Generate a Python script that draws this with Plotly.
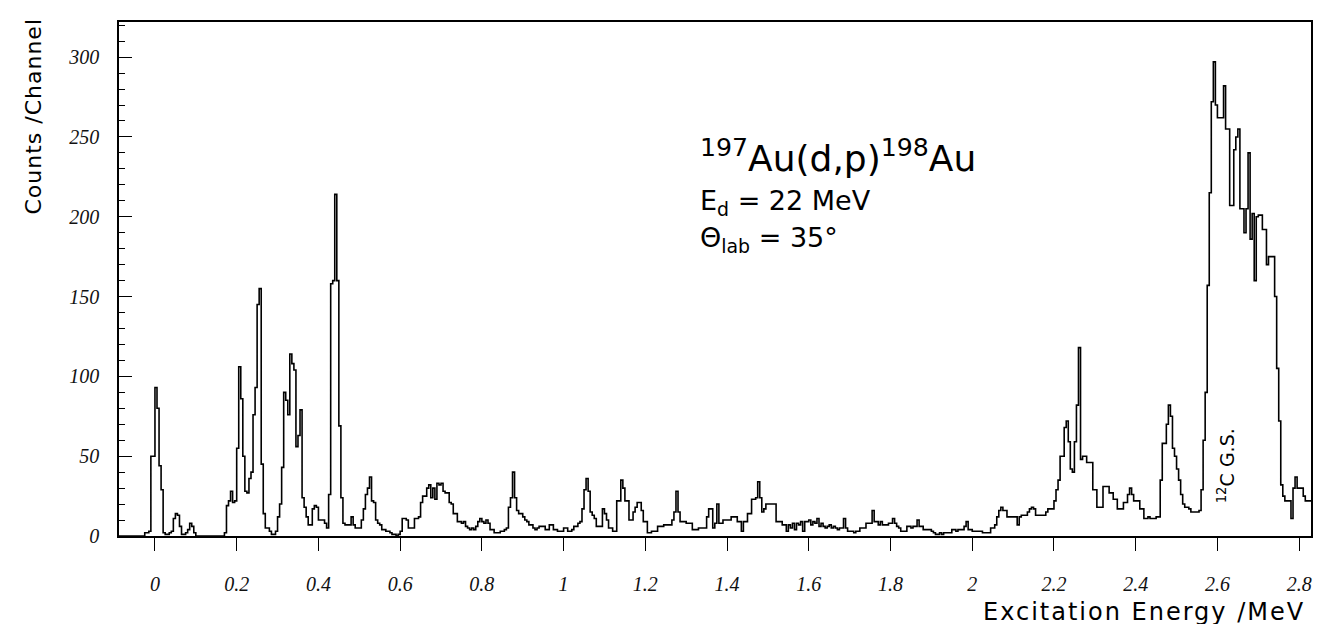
import numpy as np
import plotly.graph_objects as go

# ---- spectrum: counts per channel, channel width 0.005 MeV, first channel starts at -0.1 MeV
first_channel_energy = -0.1
channel_width = 0.005

row_m01 = [0, 0, 0, 0, 0, 0, 0, 0, 0, 0, 0, 0, 0, 0, 0, 2, 2, 3, 50, 50]
row_00 = [93, 80, 44, 29, 2, 1, 1, 2, 3, 11, 14, 13, 6, 1, 1, 2, 4, 8, 6, 2]
row_01 = [0, 0, 0, 0, 0, 0, 0, 0, 0, 0, 0, 0, 0, 0, 2, 19, 22, 28, 21, 22]
row_02 = [55, 106, 86, 50, 28, 27, 36, 40, 76, 93, 145, 155, 45, 14, 5, 5, 3, 1, 1, 3]
row_03 = [12, 20, 43, 90, 85, 76, 114, 108, 104, 56, 63, 79, 24, 18, 12, 7, 7, 17, 19, 18]
row_04 = [10, 10, 10, 8, 5, 26, 158, 160, 214, 160, 69, 24, 8, 7, 7, 7, 12, 7, 5, 5]
row_05 = [5, 10, 17, 26, 30, 37, 22, 21, 10, 8, 7, 4, 4, 3, 3, 2, 1, 1, 0, 1]
row_06 = [3, 11, 11, 10, 5, 5, 5, 11, 11, 12, 21, 25, 25, 30, 32, 24, 30, 23, 33, 32]
row_07 = [33, 28, 27, 27, 21, 20, 14, 14, 9, 9, 8, 9, 6, 5, 4, 5, 4, 6, 9, 11]
row_08 = [9, 8, 10, 8, 4, 4, 2, 2, 2, 3, 3, 4, 5, 18, 24, 40, 24, 16, 14, 14]
row_09 = [12, 10, 9, 7, 7, 5, 4, 5, 6, 6, 6, 4, 4, 7, 7, 4, 4, 3, 3, 3]
row_10 = [5, 5, 3, 3, 4, 6, 6, 8, 9, 17, 29, 36, 28, 15, 13, 11, 6, 6, 6, 17]
row_11 = [14, 10, 5, 5, 3, 3, 22, 22, 35, 30, 22, 22, 10, 10, 15, 18, 21, 21, 16, 9]
row_12 = [9, 2, 2, 3, 3, 3, 6, 6, 6, 7, 7, 7, 7, 10, 15, 28, 15, 9, 9, 9]
row_13 = [8, 8, 8, 4, 4, 4, 5, 5, 5, 5, 12, 17, 17, 5, 8, 20, 8, 8, 10, 10]
row_14 = [10, 10, 12, 12, 12, 9, 9, 3, 9, 9, 14, 14, 23, 23, 24, 34, 24, 15, 17, 20]
row_15 = [20, 20, 20, 20, 9, 9, 9, 7, 7, 3, 7, 5, 8, 4, 8, 7, 9, 3, 9, 9]
row_16 = [10, 7, 9, 8, 11, 6, 8, 6, 5, 6, 7, 5, 6, 5, 4, 5, 5, 11, 5, 3]
row_17 = [3, 3, 2, 3, 3, 5, 5, 5, 8, 8, 8, 16, 9, 9, 7, 9, 7, 7, 7, 8]
row_18 = [8, 11, 8, 6, 5, 3, 3, 3, 6, 6, 5, 6, 6, 10, 6, 6, 4, 4, 4, 4]
row_19 = [3, 2, 1, 1, 2, 1, 2, 2, 2, 2, 4, 4, 3, 4, 4, 4, 6, 9, 4, 4]
row_20 = [3, 3, 3, 3, 3, 2, 2, 2, 2, 5, 5, 7, 12, 16, 18, 16, 16, 12, 12, 12]
row_21 = [12, 12, 7, 12, 13, 13, 13, 15, 17, 18, 17, 13, 13, 13, 13, 13, 15, 17, 17, 17]
row_22 = [22, 29, 35, 50, 50, 68, 72, 59, 42, 40, 59, 82, 118, 48, 50, 50, 46, 46, 46, 29]
row_23 = [29, 18, 18, 18, 31, 31, 31, 27, 27, 23, 23, 17, 17, 17, 21, 21, 26, 30, 26, 22]
row_24 = [22, 22, 17, 17, 11, 11, 12, 11, 11, 11, 12, 12, 35, 58, 58, 70, 82, 75, 55, 50]
row_25 = [42, 35, 26, 20, 18, 18, 17, 15, 15, 15, 15, 16, 29, 60, 90, 157, 215, 272, 297, 270]
row_26 = [262, 262, 262, 282, 255, 255, 207, 207, 242, 250, 255, 205, 205, 190, 205, 240, 186, 202, 160, 200]
row_27 = [201, 201, 192, 192, 170, 175, 175, 175, 150, 105, 72, 32, 25, 22, 22, 22, 11, 30, 37, 30]
row_28 = [30, 30, 25, 22, 22, 22, 22, 22, 22, 22]

counts = (row_m01 + row_00 + row_01 + row_02 + row_03 + row_04 + row_05 + row_06
          + row_07 + row_08 + row_09 + row_10 + row_11 + row_12 + row_13 + row_14
          + row_15 + row_16 + row_17 + row_18 + row_19 + row_20 + row_21 + row_22
          + row_23 + row_24 + row_25 + row_26 + row_27 + row_28)

x_tick_values = [0, 0.2, 0.4, 0.6, 0.8, 1, 1.2, 1.4, 1.6, 1.8, 2, 2.2, 2.4, 2.6, 2.8]
x_tick_labels = ["0", "0.2", "0.4", "0.6", "0.8", "1", "1.2", "1.4", "1.6", "1.8",
                 "2", "2.2", "2.4", "2.6", "2.8"]
y_tick_values = [0, 50, 100, 150, 200, 250, 300]
y_tick_labels = ["0", "50", "100", "150", "200", "250", "300"]

edges = first_channel_energy + channel_width * np.arange(len(counts) + 1)
y_steps = counts + [counts[-1]]

fig = go.Figure()
fig.add_trace(go.Scatter(
    x=edges, y=y_steps, mode="lines", line_shape="hv",
    line=dict(color="black", width=1.6), hoverinfo="skip", showlegend=False,
))

tick_font = dict(family="Liberation Serif", size=20, color="#111", style="italic")

fig.update_xaxes(
    range=[-0.088, 2.829], showgrid=False, zeroline=False,
    showline=True, linecolor="black", linewidth=1.6, mirror=True,
    ticks="outside", ticklen=13, tickwidth=1.3, tickcolor="black",
    tickvals=x_tick_values, ticktext=x_tick_labels,
    tickfont=tick_font, ticklabelstandoff=16,
)
fig.update_yaxes(
    range=[0, 322], showgrid=False, zeroline=False,
    showline=True, linecolor="black", linewidth=1.6, mirror=True,
    ticks="inside", ticklen=13, tickwidth=1.3, tickcolor="black",
    tickvals=y_tick_values, ticktext=y_tick_labels,
    minor=dict(ticks="inside", ticklen=6, dtick=10, tickcolor="black", tickwidth=1),
    tickfont=tick_font, ticklabelstandoff=14,
)

annotations = [
    dict(text='<span style="letter-spacing:1px">Counts /Channel</span>',
         xref="paper", yref="paper", x=-0.072, y=1.012,
         xanchor="center", yanchor="top", textangle=-90, showarrow=False,
         font=dict(family="DejaVu Sans", size=22, color="black")),
    dict(text='<span style="letter-spacing:2px">Excitation Energy /MeV</span>',
         xref="paper", yref="paper", x=0.997, y=-0.148,
         xanchor="right", yanchor="middle", showarrow=False,
         font=dict(family="DejaVu Sans", size=24, color="black")),
    dict(text="<sup>197</sup>Au(d,p)<sup>198</sup>Au", xref="x", yref="y", x=1.33, y=238,
         xanchor="left", yanchor="middle", showarrow=False,
         font=dict(family="DejaVu Sans", size=36, color="black")),
    dict(text="E<sub>d</sub> = 22 MeV", xref="x", yref="y", x=1.33, y=209,
         xanchor="left", yanchor="middle", showarrow=False,
         font=dict(family="DejaVu Sans", size=27, color="black")),
    dict(text="\u0398<sub>lab</sub> = 35\u00b0", xref="x", yref="y", x=1.33, y=186,
         xanchor="left", yanchor="middle", showarrow=False,
         font=dict(family="DejaVu Sans", size=27, color="black")),
    dict(text="<sup>12</sup>C G.S.", xref="x", yref="y", x=2.62, y=44,
         xanchor="center", yanchor="middle", textangle=-90, showarrow=False,
         font=dict(family="DejaVu Sans", size=19, color="black")),
]

fig.update_layout(
    width=1325, height=624,
    margin=dict(l=111, r=22, t=12, b=96),
    paper_bgcolor="white", plot_bgcolor="white",
    annotations=annotations,
)

fig.write_html("out.html")
